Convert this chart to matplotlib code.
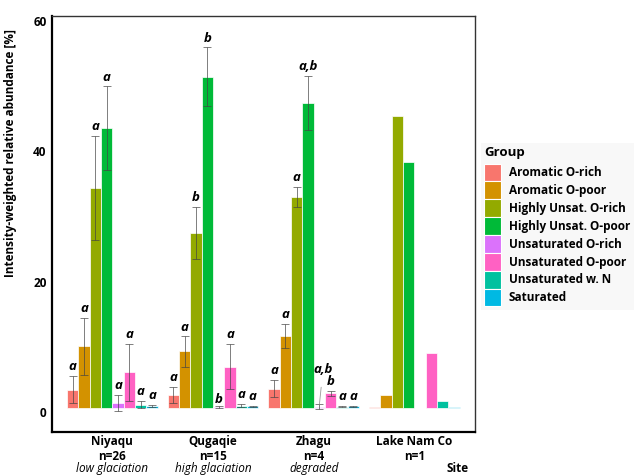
import numpy as np
import matplotlib
matplotlib.use("Agg")
import matplotlib.pyplot as plt
import matplotlib.transforms as mtransforms

plt.rcParams['font.family'] = ['Open Sans', 'DejaVu Sans']

sites = ["Niyaqu", "Qugaqie", "Zhagu", "Lake Nam Co"]
site_n = ["n=26", "n=15", "n=4", "n=1"]
site_note = ["low glaciation", "high glaciation", "degraded", ""]

groups = ["Aromatic O-rich", "Aromatic O-poor", "Highly Unsat. O-rich",
          "Highly Unsat. O-poor", "Unsaturated O-rich", "Unsaturated O-poor",
          "Unsaturated w. N", "Saturated"]
colors = ["#F8766D", "#D39200", "#93AA00", "#00BA38",
          "#DB72FB", "#FF61C3", "#00C19F", "#00B9E3"]

# mean abundance per site (rows) and group (columns)
means = [
    [2.7, 9.45, 33.7, 42.8, 0.67, 5.4, 0.46, 0.26],
    [1.85, 8.6, 26.8, 50.6, 0.05, 6.2, 0.3, 0.2],
    [2.85, 10.9, 32.3, 46.6, 0.15, 2.15, 0.15, 0.2],
    [0.1, 1.95, 44.6, 37.7, 0.0, 8.4, 0.93, 0.1],
]
err_hi = [
    [4.8, 13.7, 41.6, 49.2, 1.9, 9.8, 1.0, 0.45],
    [3.2, 10.9, 30.8, 55.2, 0.2, 9.7, 0.55, 0.3],
    [4.2, 12.8, 33.8, 50.8, 0.5, 2.5, 0.25, 0.3],
]
err_lo = [
    [0.67, 5.05, 25.7, 36.4, -0.55, 1.0, -0.1, 0.1],
    [0.67, 6.2, 22.7, 46.2, -0.1, 2.9, 0.1, 0.1],
    [1.64, 9.1, 30.7, 42.5, -0.2, 1.8, 0.05, 0.1],
]
letters = [
    ["a", "a", "a", "a", "a", "a", "a", "a"],
    ["a", "a", "b", "b", "b", "a", "a", "a"],
    ["a", "a", "a", "a,b", "a,b", "b", "a", "a"],
]

fig = plt.figure(figsize=(6.34, 4.75), dpi=100)
ax = fig.add_axes([0.082, 0.0899, 0.667, 0.8764])

x = np.arange(1, len(sites) + 1)
w = 0.9 / len(groups)
means = np.array(means)

for j, g in enumerate(groups):
    xs = x + (j - 3.5) * w
    ax.bar(xs, means[:, j], width=w, color=colors[j], edgecolor="white",
           linewidth=0.5, label=g, zorder=2)
    for i in range(3):
        lo, hi = err_lo[i][j], err_hi[i][j]
        ax.errorbar(xs[i], means[i, j], yerr=[[means[i, j] - lo], [hi - means[i, j]]],
                    fmt="none", ecolor="#444444", elinewidth=0.6, capsize=3,
                    capthick=0.6, zorder=3, alpha=0.8)
        txt = letters[i][j]
        if i == 2 and j == 4:
            # repelled label with leader line
            ax.annotate(txt, xy=(xs[i], hi), xytext=(xs[i] + 0.035, 5.8),
                        ha="center", va="center", fontsize=9.5,
                        fontweight="bold", style="italic",
                        arrowprops=dict(arrowstyle="-", color="#999999", lw=0.6,
                                        shrinkA=6, shrinkB=0))
        else:
            off = 0 if (i == 1 and j == 4) else 2
            ax.annotate(txt, xy=(xs[i], hi), xytext=(0, off), textcoords="offset points",
                        ha="center", va="bottom", fontsize=9.5,
                        fontweight="bold", style="italic")

ax.set_xlim(0.4, 4.6)
ax.set_ylim(-3.8, 60)
ax.set_yticks([0, 20, 40, 60])
ax.tick_params(axis="both", length=0)
ax.tick_params(axis="y", pad=4)
for lab in ax.get_yticklabels():
    lab.set_fontweight("bold")
    lab.set_fontsize(8.5)
    lab.set_transform(lab.get_transform() +
                      mtransforms.ScaledTranslation(0, -4.5 / 100, fig.dpi_scale_trans))

ax.set_xticks(x)
ax.set_xticklabels([])
tr = ax.get_xaxis_transform()
for i in range(len(sites)):
    ax.text(x[i], -0.021, sites[i], transform=tr, ha="center", va="center",
            fontsize=8.5, fontweight="bold")
    ax.text(x[i], -0.057, site_n[i], transform=tr, ha="center", va="center",
            fontsize=8.5, fontweight="bold")
    if site_note[i]:
        ax.text(x[i], -0.087, site_note[i], transform=tr, ha="center", va="center",
                fontsize=8.5, style="italic")
fig.text(469 / 634, 1 - 468 / 475, "Site", ha="right", va="center",
         fontsize=8.5, fontweight="bold")

ax.set_ylabel("Intensity-weighted relative abundance [%]", fontsize=8.5,
              fontweight="bold")
ax.yaxis.set_label_coords(-0.083, 0.671)

for s in ["left", "bottom"]:
    ax.spines[s].set_linewidth(1.6)
    ax.spines[s].set_color("black")
for s in ["top", "right"]:
    ax.spines[s].set_linewidth(1.0)
    ax.spines[s].set_color("#333333")

leg = fig.legend(loc="upper left", bbox_to_anchor=(475 / 634, 1 - 137 / 475),
                 title="Group", fontsize=8.5, title_fontproperties={"weight": "bold", "size": 9.5},
                 frameon=True, facecolor="#F7F7F7", edgecolor="none", fancybox=False,
                 handlelength=1.4, handleheight=1.95, labelspacing=0.0,
                 handletextpad=0.65, borderpad=0.3)
leg._legend_box.align = "left"
leg._legend_box.sep = 3
for t in leg.get_texts():
    t.set_fontweight("bold")
for p in leg.get_patches():
    p.set_edgecolor("white")
    p.set_linewidth(0.8)

fig.savefig("out.png", dpi=100)
